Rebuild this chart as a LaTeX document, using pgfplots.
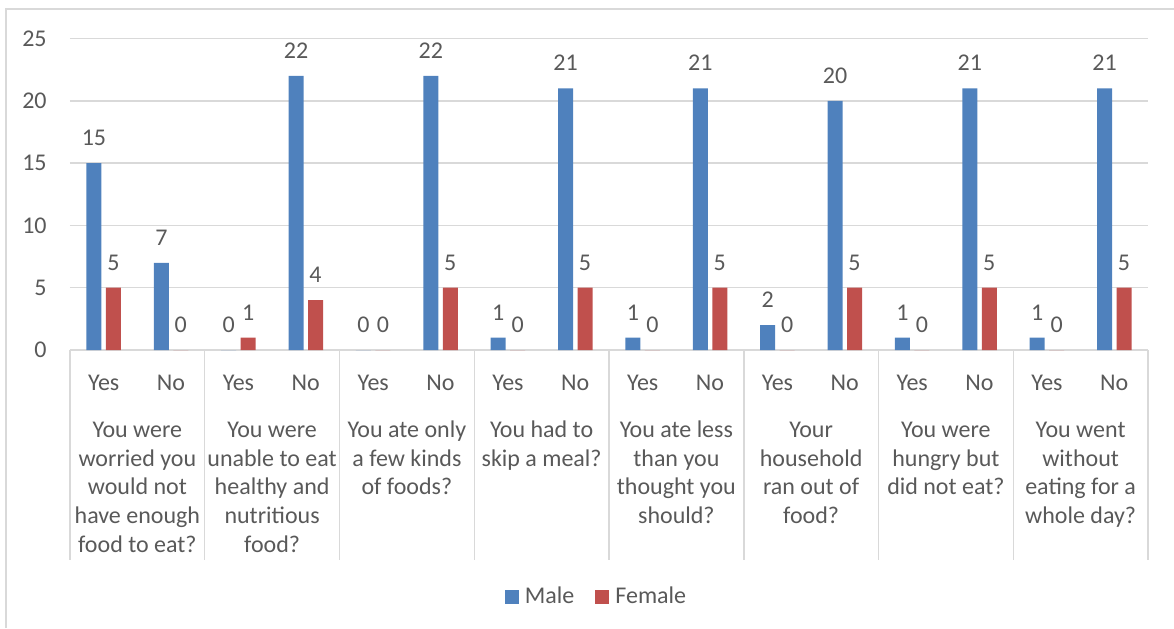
\documentclass[border=0pt]{standalone}
\usepackage{fontspec}
\setmainfont{Carlito}
\usepackage{pgfplots}
\usepackage{pgfplotstable}
\pgfplotsset{compat=1.18}
\definecolor{barblue}{HTML}{4F81BD}
\definecolor{barred}{HTML}{C0504D}
\definecolor{txt}{HTML}{595959}
\definecolor{gridc}{HTML}{D9D9D9}
\newcommand{\lbl}{\fontsize{12}{14.35}\selectfont}
% fixed first-line height so every question label starts on the same baseline
\newcommand{\fl}{\rule{0pt}{10pt}}

% answers per question: Yes / No, by sex
\pgfplotstableread{
x male female
0 15 5
1 7 0
2 0 1
3 22 4
4 0 0
5 22 5
6 1 0
7 21 5
8 1 0
9 21 5
10 2 0
11 20 5
12 1 0
13 21 5
14 1 0
15 21 5
}\datatable

\begin{document}
\begin{tikzpicture}
\useasboundingbox (0,0) rectangle (587pt,314pt);
\draw[gridc, line width=0.75pt] (3pt,0) -- (3pt,309.5pt) -- (587pt,309.5pt);
\begin{axis}[
  at={(35pt,139pt)}, anchor=south west,
  scale only axis, width=539pt, height=155.75pt,
  xmin=-0.5, xmax=15.5, ymin=0, ymax=25,
  ybar=2.2pt, bar width=7.5pt,
  clip=false,
  axis line style={draw=none},
  tick style={draw=none},
  ymajorgrids, grid style={gridc, line width=0.75pt},
  ytick={0,5,...,25},
  xtick={0,...,15},
  xticklabels={Yes,No,Yes,No,Yes,No,Yes,No,Yes,No,Yes,No,Yes,No,Yes,No},
  /pgf/number format/assume math mode=true,
  ticklabel style={font=\lbl, text=txt, inner sep=0pt},
  xticklabel style={anchor=north, yshift=-8pt},
  yticklabel style={anchor=east, xshift=-11.5pt},
  nodes near coords,
  every node near coord/.append style={font=\lbl, text=txt, inner sep=0pt, anchor=south, yshift=8.5pt},
  legend columns=2,
  legend style={draw=none, fill=none, at={(0.4875,-0.793)}, anchor=center,
    font=\lbl, text=txt, nodes={inner sep=0pt},
    /tikz/every odd column/.append style={column sep=3pt},
    /tikz/every even column/.append style={column sep=10.5pt}},
  legend image code/.code={\fill[#1] (0pt,-3.5pt) rectangle (7pt,3.5pt);},
]
\addplot[fill=barblue, draw=none] table[x=x, y=male] {\datatable};
\addplot[fill=barred, draw=none] table[x=x, y=female] {\datatable};
\legend{Male, Female}

\pgfplotsinvokeforeach{-0.5,1.5,3.5,5.5,7.5,9.5,11.5,13.5,15.5}{
  \draw[gridc, line width=0.75pt] (axis cs:#1,0) -- ++(0pt,-105pt);
}
\tikzset{grp/.style={anchor=north, align=center, font=\lbl, text=txt, inner sep=0pt, yshift=-33.5pt}}
\node[grp] at (axis cs:0.5,0) {\fl You were\\worried you\\would not\\have enough\\food to eat?};
\node[grp] at (axis cs:2.5,0) {\fl You were\\unable to eat\\healthy and\\nutritious\\food?};
\node[grp] at (axis cs:4.5,0) {\fl You ate only\\a few kinds\\of foods?};
\node[grp] at (axis cs:6.5,0) {\fl You had to\\skip a meal?};
\node[grp] at (axis cs:8.5,0) {\fl You ate less\\than you\\thought you\\should?};
\node[grp] at (axis cs:10.5,0) {\fl Your\\household\\ran out of\\food?};
\node[grp] at (axis cs:12.5,0) {\fl You were\\hungry but\\did not eat?};
\node[grp] at (axis cs:14.5,0) {\fl You went\\without\\eating for a\\whole day?};
\end{axis}
\end{tikzpicture}
\end{document}
